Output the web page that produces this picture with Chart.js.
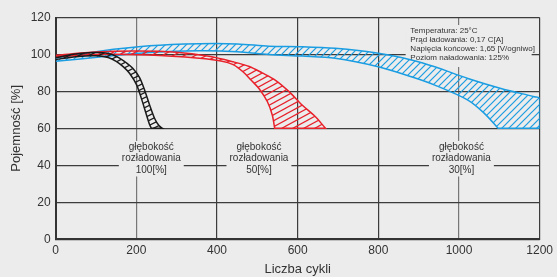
<!DOCTYPE html>
<html>
<head>
<meta charset="utf-8">
<script src="https://cdn.jsdelivr.net/npm/chart.js@4.4.1/dist/chart.umd.min.js"></script>
<style>
  html, body { margin: 0; padding: 0; background: #ececec; }
</style>
</head>
<body>
<canvas id="cycleChart" width="557" height="277"></canvas>
<script>
// Cycle life vs depth of discharge (capacity band per DoD)
const xTicks = [0, 200, 400, 600, 800, 1000, 1200];
const yTicks = [0, 20, 40, 60, 80, 100, 120];

// each band: upper/right edge and lower/left edge, [cycles, capacity %]
const dod100Outer = [[0, 98.3], [50, 100.2], [109, 101], [140, 100], [159, 97.9], [175, 95.5], [191, 92.5], [208, 87.5], [220, 81], [233, 72.5], [245, 65.5], [256, 61.5], [265, 60]];
const dod100Inner = [[0, 97.2], [50, 98.8], [100, 99.3], [130, 98.3], [150, 96.3], [168, 93.3], [183, 89.8], [200, 83.8], [212, 76.5], [224, 68], [232, 62.5], [237, 60]];

const dod50Outer = [[0, 99.6], [100, 101.3], [200, 101.8], [300, 101.2], [380, 99], [440, 96], [480, 93.5], [512, 90], [545, 86], [578, 80], [611, 72.6], [644, 66.3], [669, 60]];
const dod50Inner = [[0, 98.6], [100, 100], [230, 99.7], [356, 98], [410, 96.5], [440, 94.5], [465, 90.5], [485, 86], [504, 81.6], [525, 74.4], [537, 67.2], [543, 60]];

const dod30Outer = [[0, 98], [109, 101.8], [233, 104.7], [356, 105.8], [450, 105.7], [529, 104.5], [611, 104.2], [693, 103.3], [800, 100.6], [882, 97], [940, 93.3], [1022, 87], [1104, 81.6], [1187, 77.1], [1200, 76.2], [1200, 60]];
const dod30Inner = [[0, 96.3], [109, 98.6], [233, 101], [356, 102], [450, 101.5], [529, 100], [611, 99.1], [693, 97.9], [800, 93.3], [882, 87.9], [940, 83.4], [1022, 75.3], [1063, 68.1], [1097, 60]];

const depthNames = ['100[%]', '50[%]', '30[%]'];
const depthLabelX = [237, 504, 1006];
const depthLabelY = 43.7;

const testConditions = [
  'Temperatura: 25°C',
  'Prąd ładowania: 0,17 C[A]',
  'Napięcia końcowe: 1,65 [V/ogniwo]',
  'Poziom naładowania: 125%'
];

const BG = '#ececec';
const FONT = '"Liberation Sans", Arial, sans-serif';

function hatch(color, w, h, lw) {
  const c = document.createElement('canvas');
  c.width = w; c.height = h;
  const g = c.getContext('2d');
  g.strokeStyle = color;
  g.lineWidth = lw;
  for (let n = -1; n <= 1; n++) {
    g.beginPath();
    g.moveTo(-1, h + n * h + h / w);
    g.lineTo(w + 1, n * h - h / w);
    g.stroke();
  }
  return g.createPattern(c, 'repeat');
}

// closed outline: outer edge forward, inner edge back.
// the end point of each edge is repeated so the flat cap at 60% stays a sharp corner
function band(outer, inner, color, pattern) {
  const o = outer.concat([outer[outer.length - 1]]);
  const i = inner.concat([inner[inner.length - 1]]).reverse();
  const pts = o.concat(i);
  return {
    data: pts.map(([x, y]) => ({ x, y })),
    borderColor: color,
    borderWidth: 1.5,
    backgroundColor: pattern,
    fill: 'shape',
    tension: 0.3,
    pointRadius: 0,
    pointHitRadius: 0
  };
}

const notesPlugin = {
  id: 'notes',
  beforeDatasetsDraw(chart) {
    const { ctx, chartArea, scales: { x, y } } = chart;
    ctx.save();
    ctx.font = '10px ' + FONT;
    ctx.textAlign = 'center';
    ctx.textBaseline = 'middle';
    depthNames.forEach((name, i) => {
      const cx = x.getPixelForValue(depthLabelX[i]);
      const cy = y.getPixelForValue(depthLabelY);
      const lines = ['głębokość', 'rozładowania', name];
      const w = Math.max(...lines.map(l => ctx.measureText(l).width)) + 6;
      ctx.fillStyle = BG;
      ctx.fillRect(cx - w / 2, cy - 17.5, w, 35.5);
      ctx.fillStyle = '#333';
      lines.forEach((l, j) => ctx.fillText(l, cx, cy + (j - 1) * 11.7));
    });

    // test conditions box, top right
    const left = chartArea.right - 134;
    const top = chartArea.top + 7.5;
    ctx.fillStyle = BG;
    ctx.fillRect(left, top, 126, 42);
    ctx.font = '8px ' + FONT;
    ctx.textAlign = 'left';
    ctx.fillStyle = '#333';
    testConditions.forEach((t, i) => ctx.fillText(t, left + 4.7, top + 5.7 + i * 8.9));
    ctx.restore();
  }
};

const tickFont = { family: FONT, size: 12 };
const titleFont = { family: FONT, size: 13 };

new Chart(document.getElementById('cycleChart'), {
  type: 'line',
  data: {
    datasets: [
      band(dod100Outer, dod100Inner, '#1a1a1a', hatch('#1a1a1a', 10, 5, 1.2)),
      band(dod50Outer, dod50Inner, '#e8212b', hatch('#e8212b', 11, 6, 1.2)),
      band(dod30Outer, dod30Inner, '#1b9de2', hatch('#1b9de2', 7, 7, 1.2))
    ]
  },
  options: {
    responsive: false,
    animation: false,
    devicePixelRatio: 1,
    layout: { padding: { left: 0, right: 15, top: 17.5, bottom: 0 } },
    plugins: { legend: { display: false }, tooltip: { enabled: false } },
    scales: {
      x: {
        type: 'linear',
        min: 0,
        max: 1200,
        afterBuildTicks: s => { s.ticks = xTicks.map(v => ({ value: v })); },
        afterFit: s => { s.height = 37.8; },
        ticks: { font: tickFont, color: '#333', padding: 4, maxRotation: 0, callback: v => String(v) },
        grid: {
          drawTicks: false,
          lineWidth: 1.2,
          color: c => (c.tick && (c.tick.value === 200 || c.tick.value === 1000)) ? '#777' : '#3c3c3c'
        },
        border: { color: '#333', width: 2 },
        title: { display: true, text: 'Liczba cykli', font: titleFont, color: '#333', padding: 0 }
      },
      y: {
        min: 0,
        max: 120,
        afterBuildTicks: s => { s.ticks = yTicks.map(v => ({ value: v })); },
        afterFit: s => { s.width = 55.7; },
        ticks: { font: tickFont, color: '#333', padding: 5, callback: v => String(v) },
        grid: { drawTicks: false, lineWidth: 1.2, color: '#3c3c3c' },
        border: { color: '#333', width: 2 },
        title: { display: true, text: 'Pojemność [%]', font: titleFont, color: '#333', padding: { top: 9, bottom: 0 } }
      }
    }
  },
  plugins: [notesPlugin]
});
</script>
</body>
</html>
